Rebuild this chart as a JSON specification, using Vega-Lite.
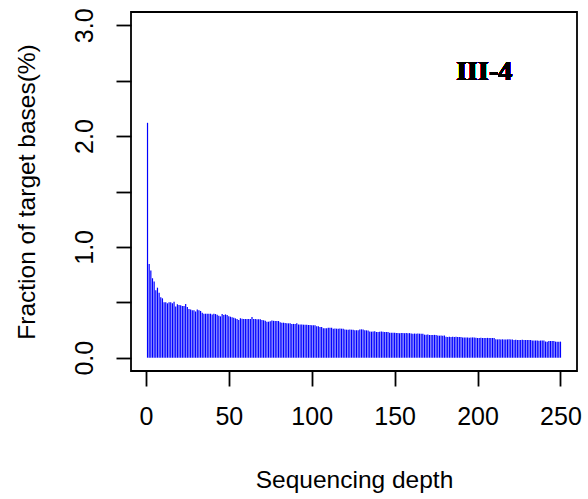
{
  "$schema": "https://vega.github.io/schema/vega-lite/v6.json",
  "width": 446,
  "height": 359,
  "autosize": "none",
  "padding": {"left": 131, "top": 12, "right": 11, "bottom": 128},
  "background": "white",
  "config": {
    "view": {"stroke": "black", "strokeWidth": 1.8},
    "font": "Liberation Sans",
    "axis": {
      "grid": false,
      "domain": false,
      "tickColor": "black",
      "tickWidth": 1.8,
      "tickSize": 15,
      "labelFont": "Liberation Sans",
      "labelFontSize": 25,
      "labelColor": "black",
      "titleFont": "Liberation Sans",
      "titleFontSize": 24.5,
      "titleFontWeight": "normal",
      "titleColor": "black",
      "labelOverlap": false,
      "labelFlush": false
    }
  },
  "data": {
    "values": [
      {"depth":1,"frac":2.12},{"depth":2,"frac":0.846},{"depth":3,"frac":0.786},{"depth":4,"frac":0.717},{"depth":5,"frac":0.687},
      {"depth":6,"frac":0.608},{"depth":7,"frac":0.632},{"depth":8,"frac":0.587},{"depth":9,"frac":0.545},{"depth":10,"frac":0.536},
      {"depth":11,"frac":0.5},{"depth":12,"frac":0.5},{"depth":13,"frac":0.491},{"depth":14,"frac":0.5},{"depth":15,"frac":0.5},
      {"depth":16,"frac":0.491},{"depth":17,"frac":0.506},{"depth":18,"frac":0.461},{"depth":19,"frac":0.482},{"depth":20,"frac":0.476},
      {"depth":21,"frac":0.473},{"depth":22,"frac":0.467},{"depth":23,"frac":0.467},{"depth":24,"frac":0.485},{"depth":25,"frac":0.458},
      {"depth":26,"frac":0.44},{"depth":27,"frac":0.434},{"depth":28,"frac":0.428},{"depth":29,"frac":0.428},{"depth":30,"frac":0.416},
      {"depth":31,"frac":0.434},{"depth":32,"frac":0.428},{"depth":33,"frac":0.422},{"depth":34,"frac":0.405},{"depth":35,"frac":0.397},
      {"depth":36,"frac":0.397},{"depth":37,"frac":0.397},{"depth":38,"frac":0.397},{"depth":39,"frac":0.397},{"depth":40,"frac":0.391},
      {"depth":41,"frac":0.397},{"depth":42,"frac":0.394},{"depth":43,"frac":0.388},{"depth":44,"frac":0.379},{"depth":45,"frac":0.373},
      {"depth":46,"frac":0.395},{"depth":47,"frac":0.385},{"depth":48,"frac":0.391},{"depth":49,"frac":0.385},{"depth":50,"frac":0.375},
      {"depth":51,"frac":0.37},{"depth":52,"frac":0.366},{"depth":53,"frac":0.36},{"depth":54,"frac":0.355},{"depth":55,"frac":0.35},
      {"depth":56,"frac":0.34},{"depth":57,"frac":0.355},{"depth":58,"frac":0.352},{"depth":59,"frac":0.349},{"depth":60,"frac":0.349},
      {"depth":61,"frac":0.349},{"depth":62,"frac":0.349},{"depth":63,"frac":0.349},{"depth":64,"frac":0.367},{"depth":65,"frac":0.349},
      {"depth":66,"frac":0.349},{"depth":67,"frac":0.346},{"depth":68,"frac":0.346},{"depth":69,"frac":0.346},{"depth":70,"frac":0.34},
      {"depth":71,"frac":0.337},{"depth":72,"frac":0.333},{"depth":73,"frac":0.325},{"depth":74,"frac":0.325},{"depth":75,"frac":0.328},
      {"depth":76,"frac":0.335},{"depth":77,"frac":0.333},{"depth":78,"frac":0.331},{"depth":79,"frac":0.331},{"depth":80,"frac":0.331},
      {"depth":81,"frac":0.32},{"depth":82,"frac":0.316},{"depth":83,"frac":0.316},{"depth":84,"frac":0.314},{"depth":85,"frac":0.31},
      {"depth":86,"frac":0.31},{"depth":87,"frac":0.31},{"depth":88,"frac":0.305},{"depth":89,"frac":0.305},{"depth":90,"frac":0.305},
      {"depth":91,"frac":0.31},{"depth":92,"frac":0.3},{"depth":93,"frac":0.3},{"depth":94,"frac":0.3},{"depth":95,"frac":0.298},
      {"depth":96,"frac":0.298},{"depth":97,"frac":0.298},{"depth":98,"frac":0.296},{"depth":99,"frac":0.295},{"depth":100,"frac":0.293},
      {"depth":101,"frac":0.292},{"depth":102,"frac":0.292},{"depth":103,"frac":0.284},{"depth":104,"frac":0.284},{"depth":105,"frac":0.277},
      {"depth":106,"frac":0.277},{"depth":107,"frac":0.266},{"depth":108,"frac":0.265},{"depth":109,"frac":0.266},{"depth":110,"frac":0.271},
      {"depth":111,"frac":0.271},{"depth":112,"frac":0.27},{"depth":113,"frac":0.262},{"depth":114,"frac":0.263},{"depth":115,"frac":0.262},
      {"depth":116,"frac":0.262},{"depth":117,"frac":0.263},{"depth":118,"frac":0.262},{"depth":119,"frac":0.261},{"depth":120,"frac":0.254},
      {"depth":121,"frac":0.253},{"depth":122,"frac":0.253},{"depth":123,"frac":0.254},{"depth":124,"frac":0.253},{"depth":125,"frac":0.252},
      {"depth":126,"frac":0.247},{"depth":127,"frac":0.248},{"depth":128,"frac":0.247},{"depth":129,"frac":0.255},{"depth":130,"frac":0.256},
      {"depth":131,"frac":0.255},{"depth":132,"frac":0.247},{"depth":133,"frac":0.247},{"depth":134,"frac":0.246},{"depth":135,"frac":0.236},
      {"depth":136,"frac":0.235},{"depth":137,"frac":0.236},{"depth":138,"frac":0.238},{"depth":139,"frac":0.232},{"depth":140,"frac":0.233},
      {"depth":141,"frac":0.235},{"depth":142,"frac":0.237},{"depth":143,"frac":0.234},{"depth":144,"frac":0.233},{"depth":145,"frac":0.232},
      {"depth":146,"frac":0.232},{"depth":147,"frac":0.226},{"depth":148,"frac":0.226},{"depth":149,"frac":0.225},{"depth":150,"frac":0.226},
      {"depth":151,"frac":0.222},{"depth":152,"frac":0.222},{"depth":153,"frac":0.221},{"depth":154,"frac":0.222},{"depth":155,"frac":0.222},
      {"depth":156,"frac":0.221},{"depth":157,"frac":0.222},{"depth":158,"frac":0.221},{"depth":159,"frac":0.222},{"depth":160,"frac":0.218},
      {"depth":161,"frac":0.217},{"depth":162,"frac":0.218},{"depth":163,"frac":0.217},{"depth":164,"frac":0.218},{"depth":165,"frac":0.217},
      {"depth":166,"frac":0.217},{"depth":167,"frac":0.216},{"depth":168,"frac":0.208},{"depth":169,"frac":0.207},{"depth":170,"frac":0.209},
      {"depth":171,"frac":0.205},{"depth":172,"frac":0.204},{"depth":173,"frac":0.205},{"depth":174,"frac":0.206},{"depth":175,"frac":0.205},
      {"depth":176,"frac":0.2},{"depth":177,"frac":0.199},{"depth":178,"frac":0.2},{"depth":179,"frac":0.199},{"depth":180,"frac":0.2},
      {"depth":181,"frac":0.188},{"depth":182,"frac":0.187},{"depth":183,"frac":0.188},{"depth":184,"frac":0.187},{"depth":185,"frac":0.188},
      {"depth":186,"frac":0.187},{"depth":187,"frac":0.188},{"depth":188,"frac":0.187},{"depth":189,"frac":0.187},{"depth":190,"frac":0.186},
      {"depth":191,"frac":0.182},{"depth":192,"frac":0.183},{"depth":193,"frac":0.182},{"depth":194,"frac":0.182},{"depth":195,"frac":0.181},
      {"depth":196,"frac":0.182},{"depth":197,"frac":0.183},{"depth":198,"frac":0.182},{"depth":199,"frac":0.181},{"depth":200,"frac":0.178},
      {"depth":201,"frac":0.178},{"depth":202,"frac":0.179},{"depth":203,"frac":0.178},{"depth":204,"frac":0.177},{"depth":205,"frac":0.178},
      {"depth":206,"frac":0.179},{"depth":207,"frac":0.178},{"depth":208,"frac":0.177},{"depth":209,"frac":0.178},{"depth":210,"frac":0.177},
      {"depth":211,"frac":0.166},{"depth":212,"frac":0.165},{"depth":213,"frac":0.166},{"depth":214,"frac":0.165},{"depth":215,"frac":0.166},
      {"depth":216,"frac":0.165},{"depth":217,"frac":0.164},{"depth":218,"frac":0.165},{"depth":219,"frac":0.166},{"depth":220,"frac":0.165},
      {"depth":221,"frac":0.164},{"depth":222,"frac":0.16},{"depth":223,"frac":0.161},{"depth":224,"frac":0.16},{"depth":225,"frac":0.159},
      {"depth":226,"frac":0.16},{"depth":227,"frac":0.161},{"depth":228,"frac":0.16},{"depth":229,"frac":0.159},{"depth":230,"frac":0.16},
      {"depth":231,"frac":0.16},{"depth":232,"frac":0.159},{"depth":233,"frac":0.156},{"depth":234,"frac":0.155},{"depth":235,"frac":0.156},
      {"depth":236,"frac":0.155},{"depth":237,"frac":0.154},{"depth":238,"frac":0.155},{"depth":239,"frac":0.156},{"depth":240,"frac":0.155},
      {"depth":241,"frac":0.146},{"depth":242,"frac":0.145},{"depth":243,"frac":0.15},{"depth":244,"frac":0.151},{"depth":245,"frac":0.15},
      {"depth":246,"frac":0.15},{"depth":247,"frac":0.145},{"depth":248,"frac":0.145},{"depth":249,"frac":0.145},{"depth":250,"frac":0.145}
    ]
  },
  "layer": [
    {
      "mark": {"type": "rule", "color": "#0000FF", "strokeWidth": 1.2},
      "encoding": {
        "x": {
          "field": "depth",
          "type": "quantitative",
          "scale": {"domain": [-8.96, 259.96], "nice": false, "zero": false},
          "axis": {
            "values": [0, 50, 100, 150, 200, 250],
            "title": "Sequencing depth",
            "labelPadding": 18,
            "titleBaseline": "alphabetic",
            "titleY": 116,
            "titleAnchor": "middle"
          }
        },
        "y": {
          "field": "frac",
          "type": "quantitative",
          "scale": {"domain": [-0.12, 3.12], "nice": false, "zero": false},
          "axis": {
            "values": [0, 0.5, 1, 1.5, 2, 2.5, 3],
            "labelExpr": "datum.value % 1 === 0 ? format(datum.value, '.1f') : ''",
            "labelAngle": -90,
            "labelAlign": "center",
            "labelBaseline": "alphabetic",
            "labelPadding": 24,
            "title": "Fraction of target bases(%)",
            "titleAngle": -90,
            "titleAlign": "center",
            "titleBaseline": "alphabetic",
            "titleX": -97,
            "titleY": 179.5
          }
        },
        "y2": {"datum": 0}
      }
    },
    {
      "mark": {"type": "text", "font": "Liberation Serif", "fontWeight": "bold", "fontSize": 28, "align": "center", "baseline": "middle", "color": "black"},
      "encoding": {
        "x": {"datum": 204},
        "y": {"datum": 2.58},
        "text": {"value": "III-4"}
      }
    }
  ]
}
